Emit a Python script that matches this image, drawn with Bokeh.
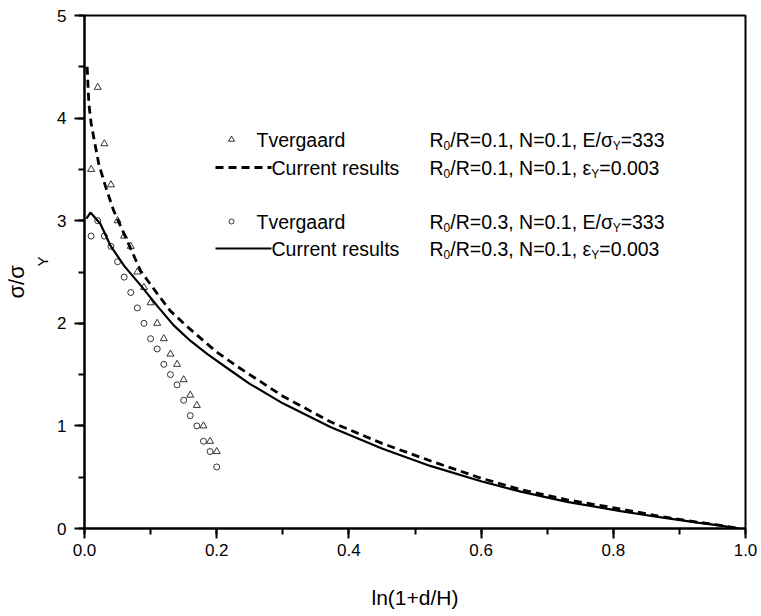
import numpy as np
from bokeh.plotting import figure
from bokeh.models import Label, SingleIntervalTicker, PrintfTickFormatter, Range1d, Title
from bokeh.embed import file_html
from bokeh.resources import INLINE

# ---------------- data ----------------
tv01_x = [0.010, 0.020, 0.030, 0.040, 0.050, 0.060, 0.070, 0.080, 0.090, 0.100,
          0.110, 0.120, 0.130, 0.140, 0.150, 0.160, 0.170, 0.180, 0.190, 0.200]
tv01_y = [3.50, 4.30, 3.75, 3.35, 3.00, 2.85, 2.75, 2.50, 2.35, 2.20,
          2.00, 1.85, 1.70, 1.60, 1.45, 1.30, 1.20, 1.00, 0.85, 0.75]

tv03_x = [0.010, 0.020, 0.030, 0.040, 0.050, 0.060, 0.070, 0.080, 0.090, 0.100,
          0.110, 0.120, 0.130, 0.140, 0.150, 0.160, 0.170, 0.180, 0.190, 0.200]
tv03_y = [2.85, 3.00, 2.85, 2.75, 2.60, 2.45, 2.30, 2.15, 2.00, 1.85,
          1.75, 1.60, 1.50, 1.40, 1.25, 1.10, 1.00, 0.85, 0.75, 0.60]

cur01_x = [0.004, 0.0066, 0.010, 0.014, 0.0217, 0.032, 0.044, 0.060, 0.085, 0.110,
           0.130, 0.155, 0.180, 0.200, 0.231, 0.300, 0.372, 0.450, 0.523, 0.600,
           0.660, 0.730, 0.811, 0.870, 0.930, 0.960, 0.990]
cur01_y = [4.50, 4.14, 3.95, 3.81, 3.55, 3.33, 3.10, 2.87, 2.51, 2.29,
           2.12, 1.97, 1.83, 1.72, 1.58, 1.29, 1.04, 0.83, 0.66, 0.49,
           0.38, 0.28, 0.19, 0.12, 0.06, 0.033, 0.0]

cur03_x = [0.003, 0.009, 0.024, 0.039, 0.060, 0.085, 0.110, 0.135, 0.160, 0.186,
           0.221, 0.250, 0.300, 0.372, 0.450, 0.523, 0.600, 0.660, 0.730, 0.811,
           0.870, 0.930, 0.960, 0.990]
cur03_y = [3.02, 3.08, 2.97, 2.76, 2.56, 2.37, 2.17, 1.98, 1.83, 1.70,
           1.54, 1.41, 1.22, 0.99, 0.78, 0.61, 0.46, 0.36, 0.26, 0.17,
           0.11, 0.055, 0.03, 0.0]

x_ticks_interval = 0.2
y_ticks_interval = 1
x_title = "ln(1+d/H)"
y_title_main = "σ/σ"
y_title_sub = "Y"

# ---------------- layout ----------------
FONT = "Liberation Sans"
PAGE = 0
FL, FT, FR, FB = 84, 15, 12, 80
FW, FH = 661, 513
XR = (0.0, 1.0)
YR = (0.0, 5.0)


def px2x(px):
    return XR[0] + (px - (PAGE + FL)) / FW * (XR[1] - XR[0])


def py2y(py):
    return YR[0] + ((PAGE + FT + FH) - py) / FH * (YR[1] - YR[0])


ADV = {' ': 278, ',': 278, '.': 278, '/': 278, '=': 584, 'R': 722, 'N': 722,
       'E': 667, 'Y': 667, 'T': 611, 'C': 722, 'a': 556, 'd': 556, 'e': 556,
       'g': 556, 'r': 333, 's': 500, 't': 278, 'u': 556, 'v': 500, 'l': 222,
       'n': 556, 'σ': 600, 'ε': 450}


def text_w(s, size):
    return sum(ADV.get(c, 556) for c in s) / 1000.0 * size


p = figure(frame_width=FW, frame_height=FH, x_range=Range1d(*XR), y_range=Range1d(*YR),
           output_backend="svg", toolbar_location=None, title=None,
           min_border_left=FL, min_border_top=FT, min_border_right=FR, min_border_bottom=FB,
           background_fill_color="white", border_fill_color="white")
p.grid.visible = False
p.outline_line_color = "black"
p.outline_line_width = 2

for ax, interval, fmt in ((p.xaxis[0], x_ticks_interval, "%.1f"), (p.yaxis[0], y_ticks_interval, "%d")):
    ax.ticker = SingleIntervalTicker(interval=interval, num_minor_ticks=2)
    ax.formatter = PrintfTickFormatter(format=fmt)
    ax.axis_line_width = 2
    ax.axis_line_color = "black"
    ax.major_tick_in = 0
    ax.minor_tick_in = 0
    ax.major_tick_out = 10
    ax.minor_tick_out = 6
    ax.major_tick_line_width = 2
    ax.minor_tick_line_width = 2
    ax.major_tick_line_color = "black"
    ax.minor_tick_line_color = "black"
    ax.major_label_text_font = FONT
    ax.major_label_text_font_size = "17px"
    ax.major_label_text_color = "black"

p.xaxis.major_label_standoff = 5
p.yaxis.major_label_standoff = 8
p.xaxis.axis_label = x_title
p.xaxis.axis_label_text_font = FONT
p.xaxis.axis_label_text_font_size = "21px"
p.xaxis.axis_label_text_font_style = "normal"
p.xaxis.axis_label_text_color = "black"
p.xaxis.axis_label_standoff = 27

# y-axis title: subscript (inner) then main text (outer), stacked in the left panel
p.add_layout(Title(text=y_title_sub, text_font=FONT, text_font_size="15px",
                   text_font_style="normal", text_color="black", align="left",
                   offset=262, standoff=7), "left")
p.add_layout(Title(text=y_title_main, text_font=FONT, text_font_size="22px",
                   text_font_style="normal", text_color="black", align="left",
                   offset=230, standoff=0), "left")

# ---------------- data glyphs ----------------
p.line(cur01_x, cur01_y, line_color="black", line_width=2.8, line_dash="8 5")
p.line(cur03_x, cur03_y, line_color="black", line_width=2.2)
p.scatter(tv01_x, tv01_y, marker="triangle", size=7, fill_color=None,
          line_color="black", line_width=0.8)
p.scatter(tv03_x, tv03_y, marker="circle", size=6, fill_color=None,
          line_color="black", line_width=0.8)


# ---------------- rich text helper ----------------
def rich(x_px, y_px, parts, size, sub_size, drop):
    adv = 0.0
    for txt, is_sub in parts:
        fs = sub_size if is_sub else size
        d = drop if is_sub else 0
        p.add_layout(Label(x=px2x(x_px + adv), y=py2y(y_px + d), text=txt, text_font=FONT,
                           text_font_size=f"{fs}px", text_align="left",
                           text_baseline="middle", text_color="black"))
        adv += text_w(txt, fs)


# ---------------- legend ----------------
LF, LSUB, LDROP = 19.5, 12, 6
rows = [139, 167, 221, 248]
mark_x = 231
line_x0, line_x1 = 215, 271
col1_t, col1_c, col2 = 256, 271, 429

legend_labels = [
    ("Tvergaard", [("R", 0), ("0", 1), ("/R=0.1, N=0.1, E/σ", 0), ("Y", 1), ("=333", 0)]),
    ("Current results", [("R", 0), ("0", 1), ("/R=0.1, N=0.1, ε", 0), ("Y", 1), ("=0.003", 0)]),
    ("Tvergaard", [("R", 0), ("0", 1), ("/R=0.3, N=0.1, E/σ", 0), ("Y", 1), ("=333", 0)]),
    ("Current results", [("R", 0), ("0", 1), ("/R=0.3, N=0.1, ε", 0), ("Y", 1), ("=0.003", 0)]),
]

p.scatter([px2x(mark_x)], [py2y(rows[0])], marker="triangle", size=6, fill_color=None,
          line_color="black", line_width=0.8)
p.line([px2x(line_x0), px2x(line_x1)], [py2y(rows[1])] * 2, line_color="black",
       line_width=2.8, line_dash="8 5")
p.scatter([px2x(mark_x)], [py2y(rows[2])], marker="circle", size=5, fill_color=None,
          line_color="black", line_width=0.8)
p.line([px2x(line_x0), px2x(line_x1)], [py2y(rows[3])] * 2, line_color="black",
       line_width=2.2)

for i, (name, parts) in enumerate(legend_labels):
    x1 = col1_t if name == "Tvergaard" else col1_c
    rich(x1, rows[i], [(name, 0)], LF, LSUB, LDROP)
    rich(col2, rows[i], [(t, bool(s)) for t, s in parts], LF, LSUB, LDROP)

open("out.html", "w").write(file_html(p, INLINE))
